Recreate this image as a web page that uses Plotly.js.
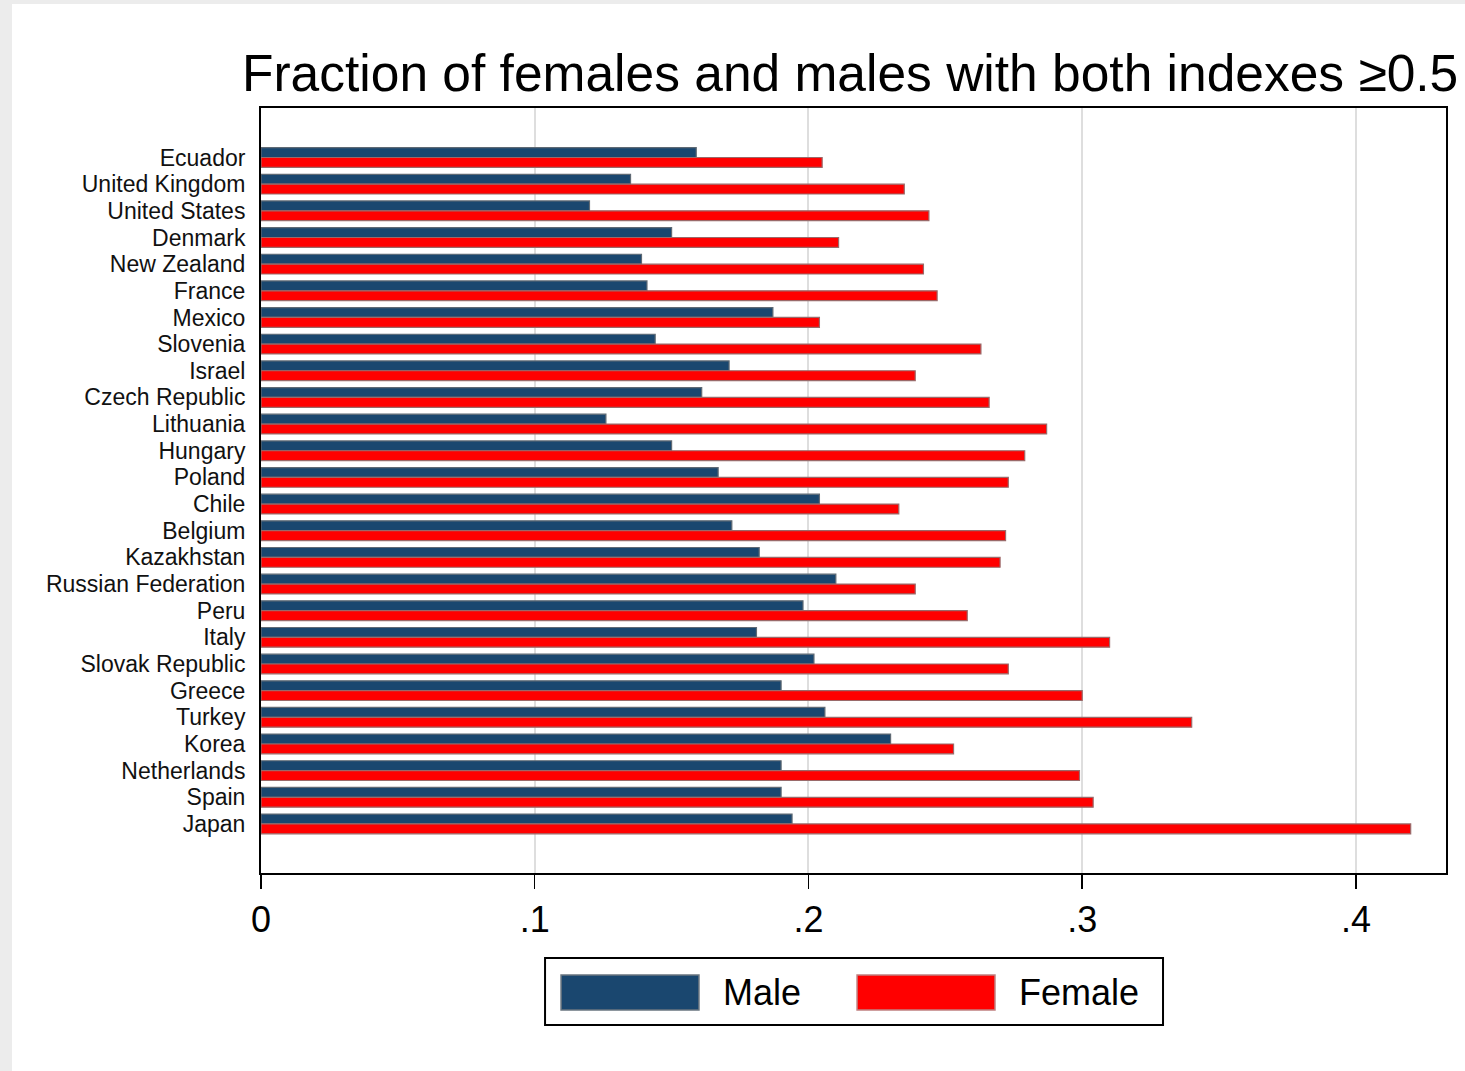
<!DOCTYPE html>
<html>
<head>
<meta charset="utf-8">
<script src="https://cdn.plot.ly/plotly-3.0.1.min.js"></script>
<style>
  html, body { margin: 0; padding: 0; background: #ececec; width: 1465px; height: 1071px; overflow: hidden; }
  #chart { position: absolute; left: 12px; top: 4px; width: 1453px; height: 1067px; background: #ffffff; }
</style>
</head>
<body>
<div id="chart"></div>
<script>
const countries = ["Ecuador","United Kingdom","United States","Denmark","New Zealand","France","Mexico","Slovenia","Israel","Czech Republic","Lithuania","Hungary","Poland","Chile","Belgium","Kazakhstan","Russian Federation","Peru","Italy","Slovak Republic","Greece","Turkey","Korea","Netherlands","Spain","Japan"];
const male   = [0.159,0.135,0.120,0.150,0.139,0.141,0.187,0.144,0.171,0.161,0.126,0.150,0.167,0.204,0.172,0.182,0.210,0.198,0.181,0.202,0.190,0.206,0.230,0.190,0.190,0.194];
const female = [0.205,0.235,0.244,0.211,0.242,0.247,0.204,0.263,0.239,0.266,0.287,0.279,0.273,0.233,0.272,0.270,0.239,0.258,0.310,0.273,0.300,0.340,0.253,0.299,0.304,0.420];
const tickVals = [0, 0.1, 0.2, 0.3, 0.4];
const tickText = ["0", ".1", ".2", ".3", ".4"];
const seriesNames = ["Male", "Female"];
const titleText = "Fraction of females and males with both indexes \u22650.5";

const maleColor = "#1a476f";
const femaleColor = "#ff0000";
const font = "Liberation Sans, Arial, sans-serif";

const traces = [
  { type: "bar", orientation: "h", name: seriesNames[0], y: countries, x: male,
    marker: { color: maleColor, line: { color: "#5f6a74", width: 1.2 } }, showlegend: false },
  { type: "bar", orientation: "h", name: seriesNames[1], y: countries, x: female,
    marker: { color: femaleColor, line: { color: "#9a6a6a", width: 1.2 } }, showlegend: false }
];

// legend drawn in paper coordinates
const lg = { x0: 0.2397, x1: 0.7612, y0: -0.1987, y1: -0.1111 };
const shapes = [
  { type: "rect", xref: "paper", yref: "paper", x0: lg.x0, x1: lg.x1, y0: lg.y0, y1: lg.y1,
    line: { color: "#000", width: 2 }, fillcolor: "#fff" },
  { type: "rect", xref: "paper", yref: "paper", x0: 0.2532, x1: 0.3696, y0: -0.1791, y1: -0.1333,
    line: { color: "#6a7680", width: 1.5 }, fillcolor: maleColor },
  { type: "rect", xref: "paper", yref: "paper", x0: 0.5030, x1: 0.6194, y0: -0.1791, y1: -0.1333,
    line: { color: "#c08080", width: 1.5 }, fillcolor: femaleColor }
];
const annotations = [
  { xref: "paper", yref: "paper", x: 0.3880, y: -0.1562, xanchor: "left", yanchor: "middle",
    text: seriesNames[0], showarrow: false, font: { family: font, size: 36, color: "#000" } },
  { xref: "paper", yref: "paper", x: 0.6380, y: -0.1562, xanchor: "left", yanchor: "middle",
    text: seriesNames[1], showarrow: false, font: { family: font, size: 36, color: "#000" } }
];

const layout = {
  width: 1453, height: 1067,
  paper_bgcolor: "#ffffff", plot_bgcolor: "#ffffff",
  margin: { l: 249, r: 19, t: 104, b: 198, pad: 0 },
  font: { family: font, color: "#000" },
  title: { text: titleText, xref: "container", yref: "container", x: 0.1583, xanchor: "left",
           y: 0.935, yanchor: "middle", font: { family: font, size: 51.5, color: "#000" } },
  barmode: "group", bargap: 0.26, bargroupgap: 0,
  xaxis: {
    range: [0, 0.4329], tickvals: tickVals, ticktext: tickText,
    showgrid: true, gridcolor: "#dedede", gridwidth: 2, zeroline: false,
    showline: true, linecolor: "#000", linewidth: 2, mirror: true,
    ticks: "outside", ticklen: 14, tickwidth: 1.5, tickcolor: "#000",
    ticklabelstandoff: 0,
    tickfont: { family: font, size: 36, color: "#000" }, fixedrange: true
  },
  yaxis: {
    type: "category", categoryorder: "array", categoryarray: countries,
    tickmode: "array", tickvals: countries, ticktext: countries,
    range: [26.84, -1.857], showgrid: false, zeroline: false,
    showline: true, linecolor: "#000", linewidth: 2, mirror: true,
    ticks: "", ticklabelstandoff: 9,
    tickfont: { family: font, size: 23, color: "#111" }, fixedrange: true
  },
  shapes: shapes,
  annotations: annotations
};

Plotly.newPlot("chart", traces, layout, { displayModeBar: false, staticPlot: true });
</script>
</body>
</html>
